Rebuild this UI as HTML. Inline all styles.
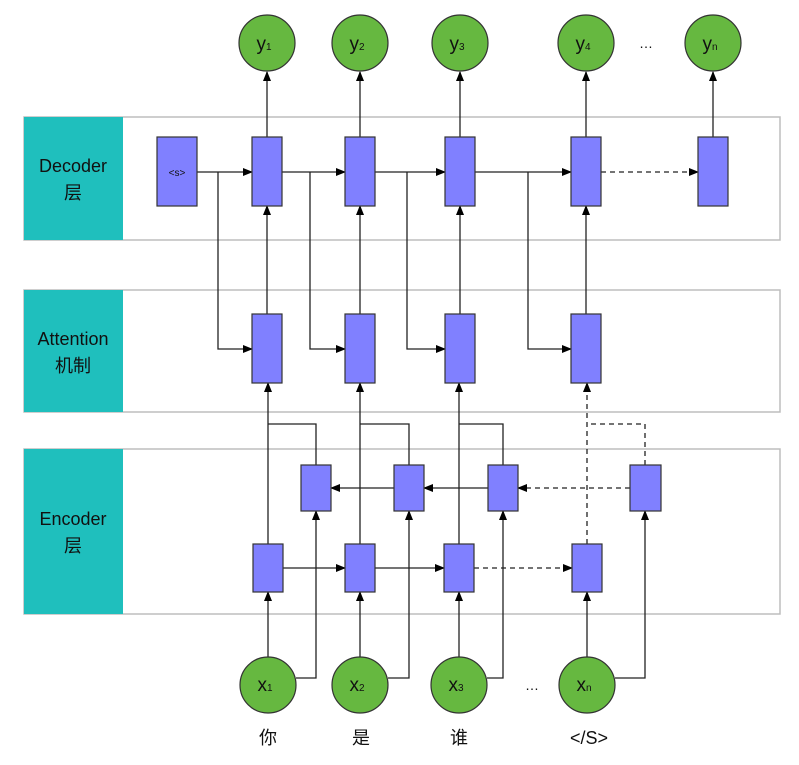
<!DOCTYPE html>
<html><head><meta charset="utf-8"><style>
html,body{margin:0;padding:0;background:#fff;}
svg{display:block;}
text{font-family:"Liberation Sans","Noto Sans CJK SC",sans-serif;fill:#111;}
</style></head><body>
<svg width="799" height="765" viewBox="0 0 799 765" xmlns="http://www.w3.org/2000/svg">
<defs>
<marker id="a" markerWidth="10" markerHeight="8" refX="9" refY="4" orient="auto" markerUnits="userSpaceOnUse">
<path d="M0,0 L10,4 L0,8 z" fill="#000"/></marker>
</defs>
<g stroke="#bdbdbd" stroke-width="1.5" fill="#fff">
<rect x="24" y="117" width="756" height="123"/>
<rect x="24" y="290" width="756" height="122"/>
<rect x="24" y="449" width="756" height="165"/>
</g>
<g fill="#1fbfbd">
<rect x="24" y="117" width="99" height="123"/>
<rect x="24" y="290" width="99" height="122"/>
<rect x="24" y="449" width="99" height="165"/>
</g>
<g font-size="18" text-anchor="middle">
<text x="73" y="172">Decoder</text><text x="73" y="199">层</text>
<text x="73" y="345">Attention</text><text x="73" y="372">机制</text>
<text x="73" y="525">Encoder</text><text x="73" y="552">层</text>
</g>
<g stroke="#222" stroke-width="1.3" fill="none">
<line x1="267" y1="137" x2="267" y2="72" marker-end="url(#a)"/>
<line x1="360" y1="137" x2="360" y2="72" marker-end="url(#a)"/>
<line x1="460" y1="137" x2="460" y2="72" marker-end="url(#a)"/>
<line x1="586" y1="137" x2="586" y2="72" marker-end="url(#a)"/>
<line x1="713" y1="137" x2="713" y2="72" marker-end="url(#a)"/>
<line x1="197" y1="172" x2="252" y2="172" marker-end="url(#a)"/>
<line x1="282" y1="172" x2="345" y2="172" marker-end="url(#a)"/>
<line x1="375" y1="172" x2="445" y2="172" marker-end="url(#a)"/>
<line x1="475" y1="172" x2="571" y2="172" marker-end="url(#a)"/>
<line x1="601" y1="172" x2="698" y2="172" stroke-dasharray="5,4" marker-end="url(#a)"/>
<polyline points="218,172 218,349 252,349" marker-end="url(#a)"/>
<polyline points="310,172 310,349 345,349" marker-end="url(#a)"/>
<polyline points="407,172 407,349 445,349" marker-end="url(#a)"/>
<polyline points="528,172 528,349 571,349" marker-end="url(#a)"/>
<line x1="267" y1="314" x2="267" y2="206" marker-end="url(#a)"/>
<line x1="360" y1="314" x2="360" y2="206" marker-end="url(#a)"/>
<line x1="460" y1="314" x2="460" y2="206" marker-end="url(#a)"/>
<line x1="586" y1="314" x2="586" y2="206" marker-end="url(#a)"/>
<line x1="268" y1="544" x2="268" y2="383" marker-end="url(#a)"/>
<line x1="360" y1="544" x2="360" y2="383" marker-end="url(#a)"/>
<line x1="459" y1="544" x2="459" y2="383" marker-end="url(#a)"/>
<line x1="587" y1="544" x2="587" y2="383" stroke-dasharray="5,4" marker-end="url(#a)"/>
<polyline points="316,465 316,424 268,424"/>
<polyline points="409,465 409,424 360,424"/>
<polyline points="503,465 503,424 459,424"/>
<polyline points="645,465 645,424 587,424" stroke-dasharray="5,4"/>
<line x1="283" y1="568" x2="345" y2="568" marker-end="url(#a)"/>
<line x1="375" y1="568" x2="444" y2="568" marker-end="url(#a)"/>
<line x1="474" y1="568" x2="572" y2="568" stroke-dasharray="5,4" marker-end="url(#a)"/>
<line x1="394" y1="488" x2="331" y2="488" marker-end="url(#a)"/>
<line x1="488" y1="488" x2="424" y2="488" marker-end="url(#a)"/>
<line x1="630" y1="488" x2="518" y2="488" stroke-dasharray="5,4" marker-end="url(#a)"/>
<line x1="268" y1="657" x2="268" y2="592" marker-end="url(#a)"/>
<line x1="360" y1="657" x2="360" y2="592" marker-end="url(#a)"/>
<line x1="459" y1="657" x2="459" y2="592" marker-end="url(#a)"/>
<line x1="587" y1="657" x2="587" y2="592" marker-end="url(#a)"/>
<polyline points="296,678 316,678 316,511" marker-end="url(#a)"/>
<polyline points="388,678 409,678 409,511" marker-end="url(#a)"/>
<polyline points="487,678 503,678 503,511" marker-end="url(#a)"/>
<polyline points="615,678 645,678 645,511" marker-end="url(#a)"/>
</g>
<g fill="#8080ff" stroke="#333" stroke-width="1.2">
<rect x="157" y="137" width="40" height="69"/>
<rect x="252" y="137" width="30" height="69"/>
<rect x="345" y="137" width="30" height="69"/>
<rect x="445" y="137" width="30" height="69"/>
<rect x="571" y="137" width="30" height="69"/>
<rect x="698" y="137" width="30" height="69"/>
<rect x="252" y="314" width="30" height="69"/>
<rect x="345" y="314" width="30" height="69"/>
<rect x="445" y="314" width="30" height="69"/>
<rect x="571" y="314" width="30" height="69"/>
<rect x="253" y="544" width="30" height="48"/>
<rect x="345" y="544" width="30" height="48"/>
<rect x="444" y="544" width="30" height="48"/>
<rect x="572" y="544" width="30" height="48"/>
<rect x="301" y="465" width="30" height="46"/>
<rect x="394" y="465" width="30" height="46"/>
<rect x="488" y="465" width="30" height="46"/>
<rect x="630" y="465" width="31" height="46"/>
</g>
<text x="177" y="176" font-size="10" text-anchor="middle" fill="#222">&lt;s&gt;</text>
<g fill="#66b840" stroke="#333" stroke-width="1.2">
<circle cx="267" cy="43" r="28"/><circle cx="360" cy="43" r="28"/><circle cx="460" cy="43" r="28"/>
<circle cx="586" cy="43" r="28"/><circle cx="713" cy="43" r="28"/>
<circle cx="268" cy="685" r="28"/><circle cx="360" cy="685" r="28"/><circle cx="459" cy="685" r="28"/>
<circle cx="587" cy="685" r="28"/>
</g>
<g font-size="19" text-anchor="middle">
<text x="264" y="50">y<tspan font-size="10">1</tspan></text>
<text x="357" y="50">y<tspan font-size="10">2</tspan></text>
<text x="457" y="50">y<tspan font-size="10">3</tspan></text>
<text x="583" y="50">y<tspan font-size="10">4</tspan></text>
<text x="710" y="50">y<tspan font-size="10">n</tspan></text>
<text x="265" y="691">x<tspan font-size="10">1</tspan></text>
<text x="357" y="691">x<tspan font-size="10">2</tspan></text>
<text x="456" y="691">x<tspan font-size="10">3</tspan></text>
<text x="584" y="691">x<tspan font-size="10">n</tspan></text>
</g>
<text x="646" y="48" font-size="14" text-anchor="middle">…</text>
<text x="532" y="690" font-size="14" text-anchor="middle">…</text>
<g font-size="18" text-anchor="middle">
<text x="268" y="744">你</text><text x="361" y="744">是</text><text x="459" y="744">谁</text><text x="589" y="744">&lt;/S&gt;</text>
</g>
</svg>
</body></html>
